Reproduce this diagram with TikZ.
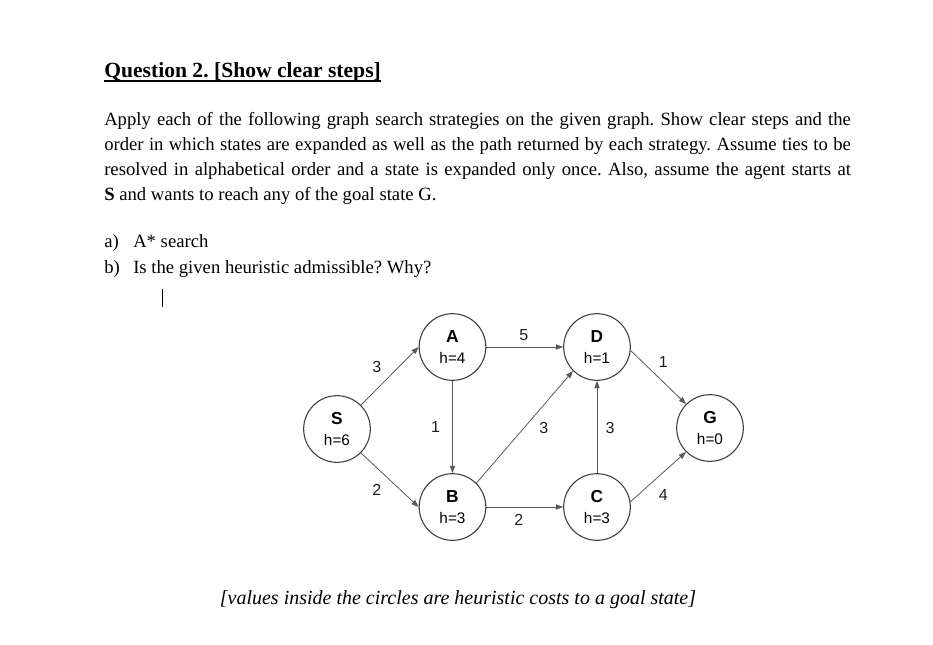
\documentclass[tikz,border=0pt]{standalone}
\usepackage{fontspec}
\setmainfont{Liberation Serif}
\newfontfamily\arialfont{Liberation Sans}
\usetikzlibrary{arrows.meta, positioning}
\definecolor{ringgray}{RGB}{60, 60, 60}
\definecolor{edgegray}{RGB}{90, 90, 90}
\definecolor{labelgray}{RGB}{30, 30, 30}
\frenchspacing

\begin{document}
\begin{tikzpicture}[x=0.75pt, y=-0.75pt,
        state/.style={circle, draw=ringgray, thick, fill=white, minimum size=50pt, inner sep=0pt, align=center, font=\arialfont\fontsize{11.5}{16}\selectfont},
        edge/.style={draw=edgegray, semithick, -{Triangle[length=5.5pt, width=4pt]}},
        lbl/.style={font=\arialfont\fontsize{12}{14}\selectfont, text=labelgray, inner sep=0pt},
        body/.style={anchor=base west, inner sep=0pt, font=\fontsize{14}{18.75}\selectfont}
    ]
    \fill[white] (0,0) rectangle (933,644);
    \useasboundingbox (0,0) rectangle (933,644);

    \node[anchor=base west, inner sep=0pt, font=\fontsize{16.2}{18}\selectfont\bfseries] (title) at (104,77) {Question 2. [Show clear steps]};
    \draw[line width=1.2pt] (title.base west) ++(0,4) -- ([yshift=-3pt]title.base east);
    \node[anchor=north west, inner sep=0pt, text width=560pt, align=justify, font=\fontsize{14}{18.75}\selectfont] (task) at (104,112)
        {Apply each of the following graph search strategies on the given graph. Show clear steps and the\linebreak
         order in which states are expanded as well as the path returned by each strategy. Assume ties to be\linebreak
         resolved in alphabetical order and a state is expanded only once. Also, assume the agent starts at\linebreak
         \textbf{S} and wants to reach any of the goal state G.};
    \node[body] (parta) at (104,247) {a)};
    \node[body] (partatext) at (133,247) {A* search};
    \node[body] (partb) at (104,273) {b)};
    \node[body] (partbtext) at (133,273) {Is the given heuristic admissible? Why?};
    \draw[thin] (162,289) -- (162,307);

    \node[state] (S) at (337,429) {{\fontsize{13}{16}\selectfont\bfseries S}\\h=6};
    \node[state] (A) at (452.5,347) {{\fontsize{13}{16}\selectfont\bfseries A}\\h=4};
    \node[state] (B) at (452.5,507) {{\fontsize{13}{16}\selectfont\bfseries B}\\h=3};
    \node[state] (D) at (597,347) {{\fontsize{13}{16}\selectfont\bfseries D}\\h=1};
    \node[state] (C) at (597,507) {{\fontsize{13}{16}\selectfont\bfseries C}\\h=3};
    \node[state] (G) at (710,428) {{\fontsize{13}{16}\selectfont\bfseries G}\\h=0};

    \draw[edge] (S.45) -- node[lbl, shift={(-13,-9)}] (wSA) {3} (A.west);
    \draw[edge] (S.-45) -- node[lbl, shift={(-13,10)}] (wSB) {2} (B.west);
    \draw[edge] (A.east) -- node[lbl, shift={(-1,-12)}] (wAD) {5} (D.west);
    \draw[edge] (A.south) -- node[lbl, shift={(-17,0)}] (wAB) {1} (B.north);
    \draw[edge] (B.45) -- node[lbl, shift={(19,1)}] (wBD) {3} (D.225);
    \draw[edge] (C.north) -- node[lbl, shift={(13,1)}] (wCD) {3} (D.south);
    \draw[edge] (B.east) -- node[lbl, shift={(-6,13)}] (wBC) {2} (C.west);
    \draw[edge] (D.-6) -- node[lbl, shift={(5,-15)}] (wDG) {1} (G.135);
    \draw[edge] (C.9) -- node[lbl, shift={(5,18)}] (wCG) {4} (G.225);

    \node[inner sep=0pt, font=\fontsize{15}{17}\selectfont\itshape] (note) at (458,600) {[values inside the circles are heuristic costs to a goal state]};
\end{tikzpicture}
\end{document}
